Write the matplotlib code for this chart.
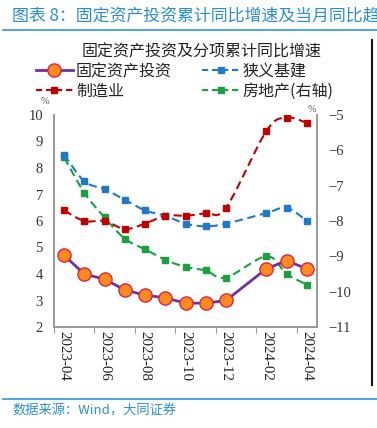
import numpy as np
import matplotlib
matplotlib.use("Agg")
import matplotlib.pyplot as plt
from matplotlib.lines import Line2D

plt.rcParams['font.family'] = ['Noto Sans CJK SC', 'DejaVu Sans']

# ---------------- data ----------------
months = ["2023-04", "2023-05", "2023-06", "2023-07", "2023-08", "2023-09",
          "2023-10", "2023-11", "2023-12", "2024-02", "2024-03", "2024-04"]
tick_labels = ["2023-04", "2023-06", "2023-08", "2023-10", "2023-12", "2024-02", "2024-04"]
fai = [4.7, 4.0, 3.8, 3.4, 3.2, 3.1, 2.9, 2.9, 3.0, 4.2, 4.5, 4.2]
infra = [8.5, 7.5, 7.2, 6.8, 6.4, 6.2, 5.9, 5.8, 5.9, 6.3, 6.5, 6.0]
manuf = [6.4, 6.0, 6.0, 5.7, 5.9, 6.2, 6.2, 6.3, 6.5, 9.4, 9.9, 9.7]
realestate = [-6.2, -7.2, -7.9, -8.5, -8.8, -9.1, -9.3, -9.4, -9.6, -9.0, -9.5, -9.8]

# month index on a time axis starting 2023-04
def midx(s):
    y, m = map(int, s.split("-"))
    return (y - 2023) * 12 + (m - 4)

x = np.array([midx(m) for m in months], dtype=float)
xt = np.array([midx(m) for m in tick_labels], dtype=float)


def smooth(xs, ys, n=20):
    xs = np.asarray(xs, float); ys = np.asarray(ys, float)
    P = np.column_stack([xs, ys])
    P = np.vstack([P[0], P, P[-1]])
    out = []
    for i in range(1, len(P) - 2):
        p0, p1, p2, p3 = P[i - 1], P[i], P[i + 1], P[i + 2]
        t = np.linspace(0, 1, n)[:, None]
        c1 = p1 + (p2 - p0) / 6.0
        c2 = p2 - (p3 - p1) / 6.0
        seg = ((1 - t) ** 3) * p1 + 3 * ((1 - t) ** 2) * t * c1 + 3 * (1 - t) * t ** 2 * c2 + t ** 3 * p2
        out.append(seg if i == 1 else seg[1:])
    out = np.vstack(out)
    return out[:, 0], out[:, 1]


W, H = 377, 428
fig = plt.figure(figsize=(W / 100, H / 100), dpi=100)

ax = fig.add_axes([54 / W, 1 - 327 / H, (317 - 54) / W, (327 - 115) / H])
ax2 = ax.twinx()

blue = "#1f78c8"
red = "#c00000"
green = "#1aa040"
purple = "#7030a0"
dash = (4, 2.2)

# left axis series
sx, sy = smooth(x, infra)
ax.plot(sx, sy, color=blue, lw=1.5, dashes=dash)
ax.plot(x, infra, ls='none', marker='s', ms=4.5, color=blue)

sx, sy = smooth(x, manuf)
ax.plot(sx, sy, color=red, lw=1.5, dashes=dash)
ax.plot(x, manuf, ls='none', marker='s', ms=4.5, color=red)

# right axis
sx, sy = smooth(x, realestate)
ax2.plot(sx, sy, color=green, lw=1.5, dashes=dash)
ax2.plot(x, realestate, ls='none', marker='s', ms=4.5, color=green)

# FAI on top
ax.set_zorder(ax2.get_zorder() + 1)
ax.patch.set_visible(False)
ax.plot(x, fai, color=purple, lw=2, marker='o', ms=9.5,
        markerfacecolor="#ff8c1a", markeredgecolor="#e0204a", markeredgewidth=1.0, zorder=5)

ax.set_xlim(-0.5, 12.5)
ax.set_ylim(2, 10)
ax2.set_ylim(-11, -5)

ax.set_yticks(range(2, 11))
ax2.set_yticks(range(-11, -4))
ax2.set_yticklabels([str(v).replace("-", "\u2212") for v in range(-11, -4)])

ax.set_xticks(xt - 0.5)
ax.set_xticklabels([])
ax.set_xticks(xt, minor=True)
ax.set_xticklabels(tick_labels, minor=True, rotation=270, family='Liberation Serif', fontsize=10.8,
                   color="#222222")
ax.tick_params(axis='x', which='major', length=4, color="#999999", direction='out')
ax.tick_params(axis='x', which='minor', length=0, pad=3)

for a in (ax, ax2):
    for s in ('top',):
        a.spines[s].set_visible(False)
    for s in ('left', 'right', 'bottom'):
        a.spines[s].set_color("#999999")
        a.spines[s].set_linewidth(1.2)
ax.tick_params(axis='y', length=0, pad=8, labelsize=10.5, labelcolor="#333333")
ax2.tick_params(axis='y', length=0, pad=8, labelsize=10.5, labelcolor="#333333")
for lbl in ax.get_yticklabels() + ax2.get_yticklabels():
    lbl.set_family('Liberation Serif')

# % labels
fig.text(45 / W, 1 - 101 / H, "%", fontsize=7.5, color="#555555", ha='center', va='center',
         family='Liberation Serif')
fig.text(312 / W, 1 - 110 / H, "%", fontsize=7.5, color="#555555", ha='center', va='center',
         family='Liberation Serif')

# chart title
fig.text(202 / W, 1 - 52 / H, "固定资产投资及分项累计同比增速", fontsize=11.5, ha='center', va='center',
         color="#222222")

# legend
handles = [
    Line2D([], [], color=purple, lw=2, marker='o', ms=9.5, markerfacecolor="#ff8c1a",
           markeredgecolor="#e0204a"),
    Line2D([], [], color=red, lw=1.5, dashes=(3, 1.8), marker='s', ms=4.5),
    Line2D([], [], color=blue, lw=1.5, dashes=(3, 1.8), marker='s', ms=4.5),
    Line2D([], [], color=green, lw=1.5, dashes=(3, 1.8), marker='s', ms=4.5),
]
labels = ["固定资产投资", "制造业", "狭义基建", "房地产(右轴)"]
leg = fig.legend(handles, labels, ncol=2, loc='upper left', bbox_to_anchor=(36 / W, 1 - 63 / H),
                 frameon=False, fontsize=11.5, handlelength=2.3, handletextpad=0.2,
                 columnspacing=1.9, labelspacing=0.15, borderpad=0, borderaxespad=0)
for t in leg.get_texts():
    t.set_color("#222222")

# header
fig.text(12 / W, 1 - 16 / H, "图表 8：固定资产投资累计同比增速及当月同比趋势", fontsize=12.2,
         color="#2a8dd4", ha='left', va='center')
fig.add_artist(Line2D([3 / W, 1], [1 - 29.5 / H, 1 - 29.5 / H], color="#2b9ad6", lw=1.2))
fig.add_artist(Line2D([372 / W, 372 / W], [1 - 40 / H, 1 - 385 / H], color="#111111", lw=1.5))
fig.add_artist(Line2D([3 / W, 1], [1 - 398.5 / H, 1 - 398.5 / H], color="#2b9ad6", lw=1.2))
fig.text(12 / W, 1 - 411 / H, "数据来源：Wind，大同证券", fontsize=9.5, color="#2b8fd0",
         style='italic', ha='left', va='center')

fig.savefig("out.png", dpi=100)
